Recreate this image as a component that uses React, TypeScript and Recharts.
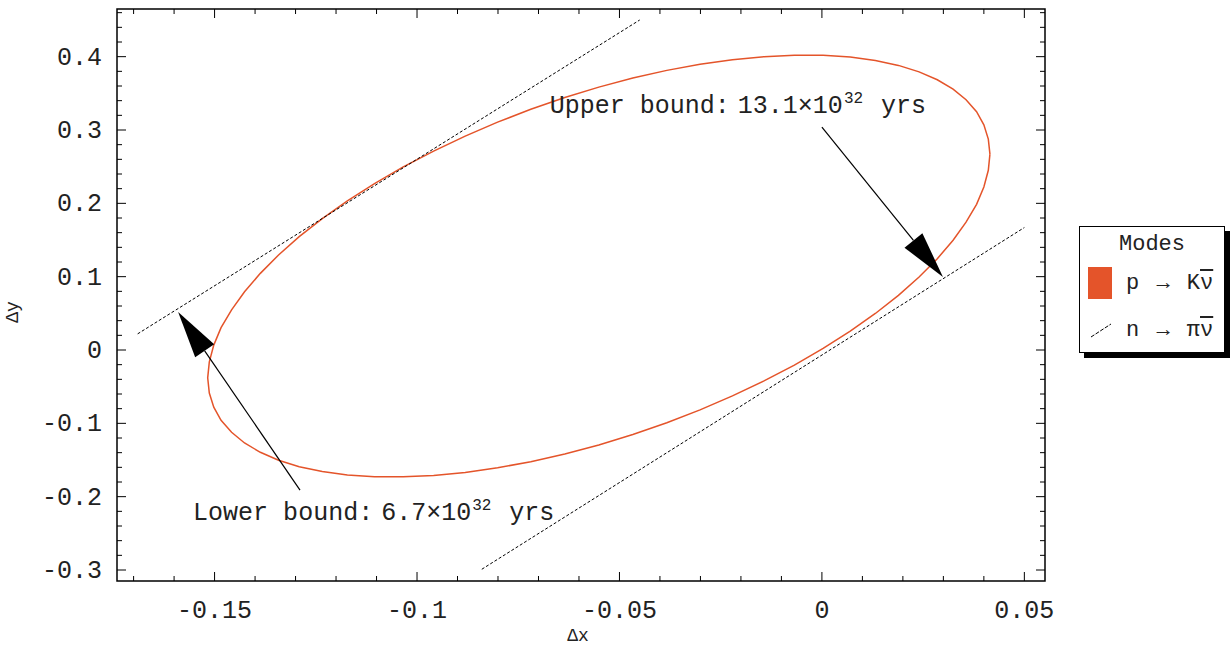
import React from "react";
import {
  ComposedChart,
  Line,
  XAxis,
  YAxis,
  ReferenceLine,
  ReferenceArea,
  ReferenceDot,
  Legend,
  Label,
} from "recharts";

// ---------- data ----------
const ellipseX = [
  0.0415, 0.0411, 0.0400, 0.0382, 0.0356, 0.0324, 0.0285, 0.0240, 0.0189, 0.0132,
  0.0070, 0.0003, -0.0068, -0.0143, -0.0221, -0.0301, -0.0383, -0.0467, -0.0551,
  -0.0635, -0.0719, -0.0801, -0.0881, -0.0959, -0.1034, -0.1105, -0.1172, -0.1234,
  -0.1291, -0.1342, -0.1387, -0.1426, -0.1458, -0.1484, -0.1502, -0.1513,
  -0.1517, -0.1513, -0.1502, -0.1484, -0.1458, -0.1426, -0.1387, -0.1342, -0.1291,
  -0.1234, -0.1172, -0.1105, -0.1034, -0.0959, -0.0881, -0.0801, -0.0719, -0.0635,
  -0.0551, -0.0467, -0.0383, -0.0301, -0.0221, -0.0143, -0.0068, 0.0003, 0.0070,
  0.0132, 0.0189, 0.0240, 0.0285, 0.0324, 0.0356, 0.0382, 0.0400, 0.0411, 0.0415,
];
const ellipseY = [
  0.2670, 0.2876, 0.3070, 0.3249, 0.3412, 0.3558, 0.3685, 0.3793, 0.3881, 0.3948,
  0.3994, 0.4018, 0.4020, 0.4000, 0.3959, 0.3896, 0.3813, 0.3708, 0.3585,
  0.3443, 0.3283, 0.3107, 0.2916, 0.2712, 0.2496, 0.2269, 0.2034, 0.1792,
  0.1545, 0.1295, 0.1045, 0.0794, 0.0547, 0.0304, 0.0067, -0.0161,
  -0.0380, -0.0586, -0.0780, -0.0959, -0.1122, -0.1268, -0.1395, -0.1503, -0.1591,
  -0.1658, -0.1704, -0.1728, -0.1730, -0.1710, -0.1669, -0.1606, -0.1523, -0.1418,
  -0.1295, -0.1153, -0.0993, -0.0817, -0.0626, -0.0422, -0.0206, 0.0021, 0.0256,
  0.0498, 0.0745, 0.0995, 0.1245, 0.1496, 0.1743, 0.1986, 0.2223, 0.2451, 0.2670,
];
const upperLineX = [-0.169, -0.045];
const upperLineY = [0.022, 0.45];
const lowerLineX = [-0.084, 0.05];
const lowerLineY = [-0.299, 0.167];

const xMajorTicks = [-0.15, -0.1, -0.05, 0, 0.05];
const xTickLabels = ["-0.15", "-0.1", "-0.05", "0", "0.05"];
const xMinorTicks = [
  -0.17, -0.16, -0.14, -0.13, -0.12, -0.11, -0.09, -0.08, -0.07, -0.06,
  -0.04, -0.03, -0.02, -0.01, 0.01, 0.02, 0.03, 0.04,
];
const yMajorTicks = [-0.3, -0.2, -0.1, 0, 0.1, 0.2, 0.3, 0.4];
const yTickLabels = ["-0.3", "-0.2", "-0.1", "0", "0.1", "0.2", "0.3", "0.4"];
const yMinorTicks = [
  -0.28, -0.26, -0.24, -0.22, -0.18, -0.16, -0.14, -0.12, -0.08, -0.06,
  -0.04, -0.02, 0.02, 0.04, 0.06, 0.08, 0.12, 0.14, 0.16, 0.18, 0.22, 0.24,
  0.26, 0.28, 0.32, 0.34, 0.36, 0.38, 0.42, 0.44, 0.46,
];

const seriesNames = ["p \u2192 K\u03bd\u0304", "n \u2192 \u03c0\u03bd\u0304"];

const annotations = [
  {
    pre: "Upper bound:",
    num: "13.1\u00d710",
    exp: "32",
    unit: "yrs",
    textX: -0.0672,
    textY: 0.323,
    fromX: 0.0,
    fromY: 0.304,
    toX: 0.0299,
    toY: 0.0995,
  },
  {
    pre: "Lower bound:",
    num: "6.7\u00d710",
    exp: "32",
    unit: "yrs",
    textX: -0.1553,
    textY: -0.232,
    fromX: -0.1289,
    fromY: -0.191,
    toX: -0.159,
    toY: 0.0518,
  },
];

// ---------- layout ----------
const W = 1232;
const H = 645;
const PLOT = { left: 117, right: 1045, top: 9, bottom: 581 };
const X_DOMAIN: [number, number] = [-0.1741, 0.0551];
const Y_DOMAIN: [number, number] = [-0.315, 0.465];
const FONT = "'Liberation Mono', 'DejaVu Sans Mono', monospace";
const TEXT = "#222";
const ELLIPSE_COLOR = "#e4542a";

const ellipseData = ellipseX.map((x, i) => ({ x, y: ellipseY[i] }));
const upperData = upperLineX.map((x, i) => ({ x, y: upperLineY[i] }));
const lowerData = lowerLineX.map((x, i) => ({ x, y: lowerLineY[i] }));
const xAllTicks = [...xMinorTicks, ...xMajorTicks].sort((a, b) => a - b);
const yAllTicks = [...yMinorTicks, ...yMajorTicks].sort((a, b) => a - b);

const majorIndex = (arr: number[], v: number) =>
  arr.findIndex((m) => Math.abs(m - v) < 1e-9);

function XTick(props: any) {
  const { x, payload } = props;
  const idx = majorIndex(xMajorTicks, payload.value);
  const len = idx >= 0 ? 9 : 5;
  return (
    <g>
      <line x1={x} y1={PLOT.bottom} x2={x} y2={PLOT.bottom - len} stroke="#000" />
      <line x1={x} y1={PLOT.top} x2={x} y2={PLOT.top + len} stroke="#000" />
      {idx >= 0 && (
        <text
          x={x}
          y={PLOT.bottom + 37}
          textAnchor="middle"
          fontFamily={FONT}
          fontSize={25}
          fill={TEXT}
        >
          {xTickLabels[idx]}
        </text>
      )}
    </g>
  );
}

function YTick(props: any) {
  const { y, payload } = props;
  const idx = majorIndex(yMajorTicks, payload.value);
  const len = idx >= 0 ? 9 : 5;
  return (
    <g>
      <line x1={PLOT.left} y1={y} x2={PLOT.left + len} y2={y} stroke="#000" />
      <line x1={PLOT.right} y1={y} x2={PLOT.right - len} y2={y} stroke="#000" />
      {idx >= 0 && (
        <text
          x={PLOT.left - 15}
          y={y + 8}
          textAnchor="end"
          fontFamily={FONT}
          fontSize={25}
          fill={TEXT}
        >
          {yTickLabels[idx]}
        </text>
      )}
    </g>
  );
}

function arrowShape(props: any) {
  const { x1, y1, x2, y2 } = props;
  const dx = x2 - x1;
  const dy = y2 - y1;
  const L = Math.hypot(dx, dy) || 1;
  const ux = dx / L;
  const uy = dy / L;
  const headLen = 47;
  const headW = 11.5;
  const bx = x2 - ux * headLen;
  const by = y2 - uy * headLen;
  const px = -uy;
  const py = ux;
  return (
    <g>
      <line x1={x1} y1={y1} x2={bx} y2={by} stroke="#000" strokeWidth={1.2} />
      <polygon
        points={`${x2},${y2} ${bx + px * headW},${by + py * headW} ${bx - px * headW},${by - py * headW}`}
        fill="#000"
      />
    </g>
  );
}

function annoShape(a: (typeof annotations)[number]) {
  return (props: any) => {
    const { cx, cy } = props;
    return (
      <text x={cx} y={cy} fontFamily={FONT} fontSize={25} fill={TEXT}>
        <tspan>{a.pre}</tspan>
        <tspan dx={8}>{a.num}</tspan>
        <tspan dx={1} dy={-10} fontSize={16}>
          {a.exp}
        </tspan>
        <tspan dx={18} dy={10}>
          {a.unit}
        </tspan>
      </text>
    );
  };
}

// renders "ν̄" style names: a char followed by a combining macron gets an overline
function ModeName({ text }: { text: string }) {
  const parts: React.ReactNode[] = [];
  const chars = Array.from(text);
  for (let i = 0; i < chars.length; i++) {
    const c = chars[i];
    if (chars[i + 1] === "\u0304") {
      parts.push(
        <span key={i} style={{ textDecoration: "overline" }}>
          {c}
        </span>
      );
      i++;
    } else {
      parts.push(c);
    }
  }
  return <>{parts}</>;
}

function LegendBox(props: any) {
  const items = ((props.payload || []) as any[])
    .filter((it) => it.type !== "none")
    .sort((a, b) => (a.type === "rect" ? -1 : 0) - (b.type === "rect" ? -1 : 0));
  return (
    <div
      style={{
        width: 146,
        height: 127,
        border: "1px solid #000",
        boxShadow: "5px 5px 0 #000",
        background: "#fff",
        position: "relative",
        fontFamily: FONT,
        color: TEXT,
        boxSizing: "border-box",
      }}
    >
      <div
        style={{
          position: "absolute",
          left: 0,
          right: 0,
          top: 4,
          textAlign: "center",
          fontSize: 22,
          lineHeight: "28px",
        }}
      >
        Modes
      </div>
      {items.map((it, i) => (
        <div
          key={i}
          style={{
            position: "absolute",
            left: 8,
            top: 40 + i * 47,
            height: 32,
            display: "flex",
            alignItems: "center",
          }}
        >
          {it.type === "rect" ? (
            <div style={{ width: 24, height: 32, background: it.color }} />
          ) : (
            <svg width={24} height={32}>
              <line x1={3} y1={23} x2={23} y2={10} stroke="#000" strokeDasharray="4 1.5" />
            </svg>
          )}
          <span style={{ marginLeft: 14, fontSize: 22, whiteSpace: "pre", wordSpacing: 4 }}>
            <ModeName text={String(it.value)} />
          </span>
        </div>
      ))}
    </div>
  );
}

export default function App() {
  return (
    <div style={{ position: "absolute", left: 0, top: 0, width: W, height: H, background: "#fff" }}>
      <ComposedChart
        width={W}
        height={H}
        margin={{ top: PLOT.top, right: W - PLOT.right, bottom: 0, left: 0 }}
      >
        <XAxis
          type="number"
          dataKey="x"
          domain={X_DOMAIN}
          allowDataOverflow
          ticks={xAllTicks}
          interval={0}
          tick={(p: any) => <XTick {...p} />}
          tickLine={false}
          axisLine={false}
          tickSize={0}
          tickMargin={0}
          height={H - PLOT.bottom}
        >
          <Label
            content={(p: any) => {
              const vb = p.viewBox || {};
              return (
                <text
                  x={vb.x + vb.width / 2 - 3}
                  y={PLOT.bottom + 60}
                  textAnchor="middle"
                  fontFamily={FONT}
                  fontSize={18}
                  fill={TEXT}
                >
                  {"\u0394x"}
                </text>
              );
            }}
          />
        </XAxis>
        <YAxis
          type="number"
          dataKey="y"
          domain={Y_DOMAIN}
          allowDataOverflow
          ticks={yAllTicks}
          interval={0}
          tick={(p: any) => <YTick {...p} />}
          tickLine={false}
          axisLine={false}
          tickSize={0}
          tickMargin={0}
          width={PLOT.left}
        >
          <Label
            content={() => (
              <text
                x={18}
                y={312}
                textAnchor="middle"
                fontFamily={FONT}
                fontSize={18}
                fill={TEXT}
                transform={`rotate(-90 18 312)`}
              >
                {"\u0394y"}
              </text>
            )}
          />
        </YAxis>
        <ReferenceArea
          x1={X_DOMAIN[0]}
          x2={X_DOMAIN[1]}
          y1={Y_DOMAIN[0]}
          y2={Y_DOMAIN[1]}
          fill="none"
          stroke="#000"
          strokeWidth={1.5}
          ifOverflow="visible"
        />
        <Line
          data={ellipseData}
          dataKey="y"
          name={seriesNames[0]}
          type="linear"
          stroke={ELLIPSE_COLOR}
          strokeWidth={1.5}
          dot={false}
          activeDot={false}
          legendType="rect"
          isAnimationActive={false}
        />
        <Line
          data={upperData}
          dataKey="y"
          name={seriesNames[1]}
          type="linear"
          stroke="#000"
          strokeWidth={1}
          strokeDasharray="3 2"
          dot={false}
          activeDot={false}
          legendType="line"
          isAnimationActive={false}
        />
        <Line
          data={lowerData}
          dataKey="y"
          name={seriesNames[1]}
          type="linear"
          stroke="#000"
          strokeWidth={1}
          strokeDasharray="3 2"
          dot={false}
          activeDot={false}
          legendType="none"
          isAnimationActive={false}
        />
        {annotations.map((a, i) => (
          <ReferenceLine
            key={"arrow" + i}
            segment={[
              { x: a.fromX, y: a.fromY },
              { x: a.toX, y: a.toY },
            ]}
            shape={arrowShape}
            ifOverflow="visible"
          />
        ))}
        {annotations.map((a, i) => (
          <ReferenceDot
            key={"text" + i}
            x={a.textX}
            y={a.textY}
            r={0}
            shape={annoShape(a)}
            ifOverflow="visible"
          />
        ))}
        <Legend
          layout="vertical"
          align="center"
          verticalAlign="middle"
          wrapperStyle={{ left: 1079, top: 226, width: 146, height: 127 }}
          content={(p: any) => <LegendBox {...p} />}
        />
      </ComposedChart>
    </div>
  );
}
